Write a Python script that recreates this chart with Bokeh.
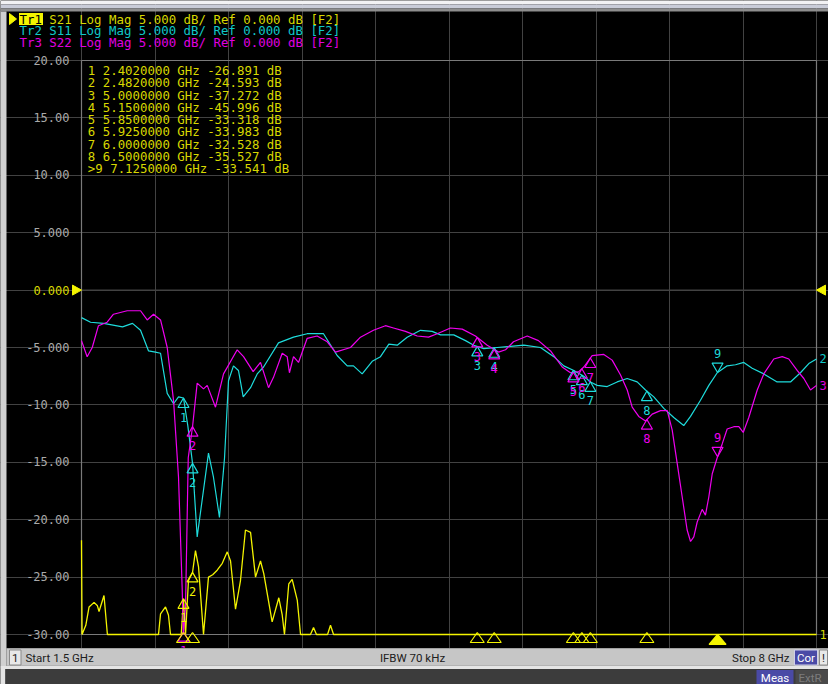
import numpy as np
from bokeh.plotting import figure
from bokeh.models import Range1d, FixedTicker, Label, BoxAnnotation, PolyAnnotation
from bokeh.core.properties import value
from bokeh.embed import file_html
from bokeh.resources import INLINE

# ---------------- data ----------------
# Tr1 S21 (yellow), values shown clamped at the -30 dB bottom line
f21 = [1.500, 1.505, 1.538, 1.567, 1.611, 1.641, 1.655, 1.699, 1.729, 2.181, 2.199, 2.243,
       2.269, 2.287, 2.382, 2.402, 2.420, 2.446, 2.482, 2.508, 2.535, 2.579, 2.623, 2.660,
       2.700, 2.745, 2.789, 2.818, 2.862, 2.906, 2.950, 2.995, 3.039, 3.083, 3.112, 3.186,
       3.245, 3.275, 3.295, 3.333, 3.363, 3.408, 3.437, 3.525, 3.552, 3.578, 3.676, 3.702,
       3.729, 8.000]
s21 = [-21.8, -30.0, -29.2, -27.6, -27.2, -27.5, -28.0, -26.6, -30.0, -30.0, -28.2, -27.6,
       -28.3, -30.0, -30.0, -26.9, -30.0, -25.3, -24.6, -22.7, -24.1, -30.0, -25.0, -24.8,
       -24.4, -23.8, -22.8, -23.6, -27.8, -25.3, -20.9, -21.1, -25.0, -23.6, -24.7, -28.9,
       -26.8, -28.3, -30.0, -25.6, -25.2, -27.0, -30.0, -30.0, -29.4, -30.0, -30.0, -29.2,
       -30.0, -30.0]

# Tr2 S11 (cyan)
f11 = [1.500, 1.580, 1.695, 1.863, 1.951, 2.022, 2.093, 2.154, 2.199, 2.258, 2.314, 2.358,
       2.402, 2.440, 2.482, 2.523, 2.623, 2.667, 2.720, 2.765, 2.800, 2.844, 2.888, 2.930,
       2.995, 3.054, 3.110, 3.242, 3.375, 3.496, 3.640, 3.761, 3.850, 3.905, 3.982, 4.071,
       4.144, 4.218, 4.292, 4.380, 4.498, 4.601, 4.675, 4.792, 4.896, 4.969, 5.058, 5.176,
       5.294, 5.412, 5.559, 5.677, 5.765, 5.854, 5.942, 6.001, 6.061, 6.149, 6.237, 6.326,
       6.414, 6.488, 6.561, 6.650, 6.738, 6.826, 6.886, 6.974, 7.048, 7.122, 7.210, 7.284,
       7.357, 7.431, 7.534, 7.652, 7.770, 7.858, 7.932, 8.000]
s11 = [-2.4, -2.8, -2.9, -3.2, -2.9, -3.5, -5.3, -5.4, -5.5, -9.0, -9.9, -9.3,
       -9.4, -11.8, -15.1, -21.5, -14.2, -16.3, -19.8, -14.6, -7.9, -6.6, -7.0, -9.3,
       -8.5, -7.3, -6.7, -4.6, -4.1, -3.8, -3.8, -5.7, -6.6, -6.6, -7.3, -6.2,
       -5.8, -4.7, -4.8, -4.1, -3.5, -3.6, -3.9, -3.9, -4.4, -4.8, -5.1, -5.0,
       -4.9, -4.8, -5.0, -5.8, -6.6, -7.0, -7.5, -8.0, -8.3, -8.4, -8.0, -7.7,
       -8.0, -8.7, -9.3, -10.3, -11.1, -11.8, -11.0, -9.6, -8.3, -7.2, -6.6, -6.5,
       -6.3, -6.8, -7.3, -8.0, -8.0, -7.2, -6.4, -6.0]

# Tr3 S22 (magenta)
f22 = [1.500, 1.550, 1.595, 1.650, 1.727, 1.783, 1.904, 2.022, 2.081, 2.137, 2.199, 2.258,
       2.314, 2.358, 2.391, 2.400, 2.420, 2.444, 2.482, 2.523, 2.579, 2.612, 2.685, 2.756,
       2.877, 2.933, 3.018, 3.083, 3.154, 3.198, 3.275, 3.319, 3.339, 3.375, 3.419, 3.496,
       3.584, 3.673, 3.746, 3.879, 3.967, 4.082, 4.188, 4.259, 4.365, 4.469, 4.569, 4.646,
       4.763, 4.867, 4.984, 5.088, 5.188, 5.250, 5.320, 5.442, 5.541, 5.648, 5.751, 5.824,
       5.898, 5.942, 6.016, 6.119, 6.193, 6.267, 6.326, 6.370, 6.428, 6.488, 6.547, 6.620,
       6.680, 6.724, 6.768, 6.812, 6.856, 6.886, 6.915, 6.945, 6.989, 7.018, 7.048, 7.078,
       7.122, 7.166, 7.210, 7.269, 7.313, 7.352, 7.401, 7.476, 7.534, 7.622, 7.697, 7.755,
       7.829, 7.888, 7.947, 8.000]
s22 = [-4.4, -5.8, -5.0, -3.1, -2.8, -2.1, -1.8, -1.8, -2.6, -2.1, -2.6, -5.0,
       -9.6, -16.3, -26.2, -30.0, -27.6, -14.6, -11.9, -8.1, -8.6, -8.3, -10.2, -7.3,
       -5.2, -5.8, -7.1, -6.3, -8.5, -7.6, -5.5, -5.8, -7.2, -5.8, -6.3, -4.2,
       -4.0, -4.5, -5.4, -5.0, -4.1, -3.5, -3.1, -3.3, -3.6, -4.0, -4.1, -3.8,
       -3.3, -3.4, -4.0, -4.8, -5.4, -5.2, -4.5, -4.0, -4.4, -5.3, -6.7, -7.2,
       -7.1, -6.7, -5.7, -5.6, -6.1, -7.4, -8.7, -10.2, -11.0, -11.4, -10.8, -10.5,
       -10.5, -12.2, -15.1, -18.0, -20.9, -21.9, -21.5, -20.2, -19.1, -19.6, -18.0, -16.0,
       -14.6, -13.4, -12.1, -11.9, -11.9, -12.4, -11.1, -8.7, -7.3, -6.0, -5.8, -6.0,
       -7.0, -7.7, -8.7, -8.3]

# markers (Tr1 readout)
marker_freqs = [2.402, 2.482, 5.000, 5.150, 5.850, 5.925, 6.000, 6.500, 7.125]
marker_values = [-26.891, -24.593, -37.272, -45.996, -33.318, -33.983, -32.528, -35.527, -33.541]
marker_names = ["1", "2", "3", "4", "5", "6", "7", "8", "9"]
ACTIVE = 8

y_ticks = [-30, -25, -20, -15, -10, -5, 0, 5, 10, 15, 20]
y_tick_labels = ["-30.00", "-25.00", "-20.00", "-15.00", "-10.00", "-5.000", "0.000",
                 "5.000", "10.00", "15.00", "20.00"]
x_grid = [1.5, 2.15, 2.8, 3.45, 4.1, 4.75, 5.4, 6.05, 6.7, 7.35, 8.0]
REF_LEVEL = 0.0

trace_names = ["1", "2", "3"]
header_rows = [("Tr1", "S21 Log Mag 5.000 dB/ Ref 0.000 dB [F2]"),
               ("Tr2", "S11 Log Mag 5.000 dB/ Ref 0.000 dB [F2]"),
               ("Tr3", "S22 Log Mag 5.000 dB/ Ref 0.000 dB [F2]")]
footer_start = "Start 1.5 GHz"
footer_ifbw = "IFBW 70 kHz"
footer_stop = "Stop 8 GHz"

# ---------------- style / layout ----------------
YELLOW, YEL_TXT = "#f4f400", "#d8d800"
CYAN, CYAN_TXT = "#1edcdc", "#10c8c8"
MAG, MAG_TXT = "#f000f0", "#e000e0"
GRID, BORDER, GRAY_TXT = "#424242", "#7a7a7a", "#aaaaaa"
MONO = "DejaVu Sans Mono"
SANS = "Roboto"
W, H = 828, 684
GX0, GY0 = 81, 60             # graticule top-left in canvas pixels
GW, GH = 735, 574             # graticule size in pixels
PX = 50.0 / GH                # dB per pixel
GPX = 6.5 / GW                # GHz per pixel

x_range = Range1d(x_grid[0] - GX0 * GPX, x_grid[0] + (W - GX0) * GPX)
y_range = Range1d(y_ticks[-1] - (H - GY0) * PX, y_ticks[-1] + GY0 * PX)

p = figure(width=W, height=H, x_range=x_range, y_range=y_range,
           output_backend="svg", toolbar_location=None,
           min_border=0, min_border_left=0, min_border_right=0, min_border_top=0,
           min_border_bottom=0, background_fill_color="black", border_fill_color="black",
           outline_line_color=None)

p.xaxis.visible = False
p.xgrid.ticker = FixedTicker(ticks=x_grid)
p.xgrid.bounds = (y_ticks[0], y_ticks[-1])
p.xgrid.grid_line_color = GRID
p.ygrid.ticker = FixedTicker(ticks=y_ticks)
p.ygrid.bounds = (x_grid[0], x_grid[-1])
p.ygrid.grid_line_color = GRID

ya = p.yaxis[0]
ya.fixed_location = x_grid[0]
ya.ticker = FixedTicker(ticks=y_ticks)
ya.major_label_overrides = {t: (" " if t == REF_LEVEL else s) for t, s in zip(y_ticks, y_tick_labels)}
ya.axis_line_color = None
ya.major_tick_line_color = None
ya.minor_tick_line_color = None
ya.major_tick_out = 0
ya.major_tick_in = 0
ya.major_label_standoff = 12
ya.major_label_text_font = MONO
ya.major_label_text_font_size = "12px"
ya.major_label_text_color = GRAY_TXT


def sy(Y):
    return H - Y


def label(text, X, Y, color, size="12.4px", font=MONO, align="left"):
    p.add_layout(Label(x=X, y=sy(Y), x_units="screen", y_units="screen", text=text,
                       text_color=color, text_font=font, text_font_size=size,
                       text_align=align, text_baseline="middle"))


def box(X0, X1, Y0, Y1, fill, line=None):
    p.add_layout(BoxAnnotation(left=X0, right=X1, top=sy(Y0), bottom=sy(Y1),
                               left_units="screen", right_units="screen",
                               top_units="screen", bottom_units="screen",
                               fill_color=fill, fill_alpha=1.0, line_color=line, line_alpha=1.0))


# graticule border and reference-level line
p.add_layout(PolyAnnotation(xs=[x_grid[0], x_grid[-1], x_grid[-1], x_grid[0]],
                            ys=[y_ticks[0], y_ticks[0], y_ticks[-1], y_ticks[-1]],
                            fill_color=None, line_color=BORDER, line_alpha=1.0,
                            line_width=1.2, level="underlay"))
p.add_layout(PolyAnnotation(xs=[x_grid[0], x_grid[-1], x_grid[-1], x_grid[0]],
                            ys=[REF_LEVEL - 0.5 * PX, REF_LEVEL - 0.5 * PX,
                                REF_LEVEL + 0.5 * PX, REF_LEVEL + 0.5 * PX],
                            fill_color=GRID, fill_alpha=1.0, line_color=None,
                            level="underlay"))

# ---------------- traces ----------------
p.line(f21, np.clip(s21, y_ticks[0], y_ticks[-1]), line_color=YELLOW, line_width=1.3)
p.line(f11, s11, line_color=CYAN, line_width=1.2)
p.line(f22, s22, line_color=MAG, line_width=1.2)

# trace end numbers at the right edge
ends_y = [max(s21[-1], y_ticks[0]), s11[-1], s22[-1]]
p.text([f21[-1], f11[-1], f22[-1]], ends_y, text=trace_names, x_offset=3,
       text_align="left", text_baseline="middle", text_color=[YEL_TXT, CYAN_TXT, MAG_TXT],
       text_font=value(MONO), text_font_size="12px")

mf = np.array(marker_freqs)
names = np.array(marker_names)
up = np.arange(len(mf)) != ACTIVE
act = ~up
for fs, vs, col in [(f11, s11, CYAN), (f22, s22, MAG)]:
    my = np.interp(mf, fs, vs)
    p.scatter(mf[up], my[up] - 6.3 * PX, marker="triangle", size=11, fill_color=None,
              line_color=col, line_width=1.2)
    p.text(mf[up], my[up], text=list(names[up]), y_offset=19, text_align="center",
           text_baseline="middle", text_color=col, text_font=value(MONO), text_font_size="12px")
    p.scatter(mf[act], my[act] + 6.3 * PX, marker="inverted_triangle", size=11, fill_color=None,
              line_color=col, line_width=1.2)
    p.text(mf[act], my[act], text=list(names[act]), y_offset=-19, text_align="center",
           text_baseline="middle", text_color=col, text_font=value(MONO), text_font_size="12px")

# Tr1 markers that are on screen
mv = np.array(marker_values)
vis = mv > y_ticks[0]
p.scatter(mf[vis], mv[vis] - 6.3 * PX, marker="triangle", size=11, fill_color=None,
          line_color=YELLOW, line_width=1.2)
p.text(mf[vis], mv[vis], text=list(names[vis]), y_offset=19, text_align="center",
       text_baseline="middle", text_color=YELLOW, text_font=value(MONO), text_font_size="12px")

# marker position indicators under the graticule
for i, f in enumerate(marker_freqs):
    big = i == ACTIVE
    hw = (8.5 if big else 7) * GPX
    p.add_layout(PolyAnnotation(xs=[f - hw, f, f + hw],
                                ys=[sy(644 if big else 642), sy(634 if big else 632), sy(644 if big else 642)],
                                xs_units="data", ys_units="screen",
                                fill_color=YELLOW if big else None, fill_alpha=1.0,
                                line_color=YELLOW, line_alpha=1.0, line_width=1.2))

# reference level arrows and label
p.add_layout(PolyAnnotation(xs=[72, 81, 72], ys=[REF_LEVEL + 5 * PX, REF_LEVEL, REF_LEVEL - 5 * PX],
                            xs_units="screen", ys_units="data", fill_color=YELLOW,
                            fill_alpha=1.0, line_color=YELLOW, line_alpha=1.0))
p.add_layout(PolyAnnotation(xs=[825, 816, 825], ys=[REF_LEVEL + 5 * PX, REF_LEVEL, REF_LEVEL - 5 * PX],
                            xs_units="screen", ys_units="data", fill_color=YELLOW,
                            fill_alpha=1.0, line_color=YELLOW, line_alpha=1.0))
p.add_layout(Label(x=69, y=REF_LEVEL, x_units="screen", y_units="data",
                   text=y_tick_labels[y_ticks.index(0)], text_color=YEL_TXT, text_font=MONO,
                   text_font_size="12px", text_align="right", text_baseline="middle"))

# ---------------- window chrome ----------------
box(0, W, 0, 4, "#f2f2f4")
box(0, W, 4, 8, "#c9ccd8")
box(0, W, 8, 11, "#8e8e8e")
box(0, 6, 11, 668, "#d0d0d0")

# header
p.add_layout(PolyAnnotation(xs=[9, 16, 9], ys=[sy(13), sy(18.5), sy(24)],
                            xs_units="screen", ys_units="screen", fill_color=YELLOW,
                            fill_alpha=1.0, line_color=YELLOW, line_alpha=1.0))
box(18.5, 42.5, 12.5, 24.5, YELLOW)
row_cols = [YEL_TXT, CYAN_TXT, MAG_TXT]
for i, ((tr, rest), col) in enumerate(zip(header_rows, row_cols)):
    Y = 18.5 + 11.5 * i
    label(tr, 19, Y, "black" if i == 0 else col)
    label(rest, 19 + 4 * 7.45, Y, col)

# marker table
for i, (f, v) in enumerate(zip(marker_freqs, marker_values)):
    pre = ">" if i == ACTIVE else " "
    txt = f"{pre}{marker_names[i]}  {f:.7f} GHz {v:.3f} dB"
    label(txt, 87.3, 70 + 12.29 * i, YEL_TXT)

# footer
box(6, W, 648, 665.5, "#c6c6c6", "#a0a0a0")
box(0, W, 665.5, 668.5, "#e4e4e4")
box(0, 5, 668.5, H, "#e4e4e4")
box(5, W, 668.5, H, "#3c3c3c")
box(9, 20.5, 649.5, 664.5, "#e8e8e8", "#8a8a8a")
box(794, 817, 649.5, 664.5, "#4a4aa6", "#d0d0e8")
box(819, 827, 649.5, 664.5, "#e8e8e8", "#8a8a8a")
box(756, 793, 669.5, H, "#4a4aa6")
box(795, W, 669.5, H, "#4a4a4a")
label("1", 14.7, 657, "#202020", size="11.5px", font=SANS, align="center")
label(footer_start, 25, 657, "#202020", size="11.5px", font=SANS)
label(footer_ifbw, 412, 657, "#202020", size="11.5px", font=SANS, align="center")
label(footer_stop, 789, 657, "#202020", size="11.5px", font=SANS, align="right")
label("Cor", 805.5, 657, "white", size="11.5px", font=SANS, align="center")
label("!", 823, 657, "#202020", size="11.5px", font=SANS, align="center")
label("Meas", 774.5, 677, "white", size="11.5px", font=SANS, align="center")
label("ExtR", 798, 677, "#7c7c7c", size="11.5px", font=SANS)

open("out.html", "w").write(file_html(p, INLINE))
